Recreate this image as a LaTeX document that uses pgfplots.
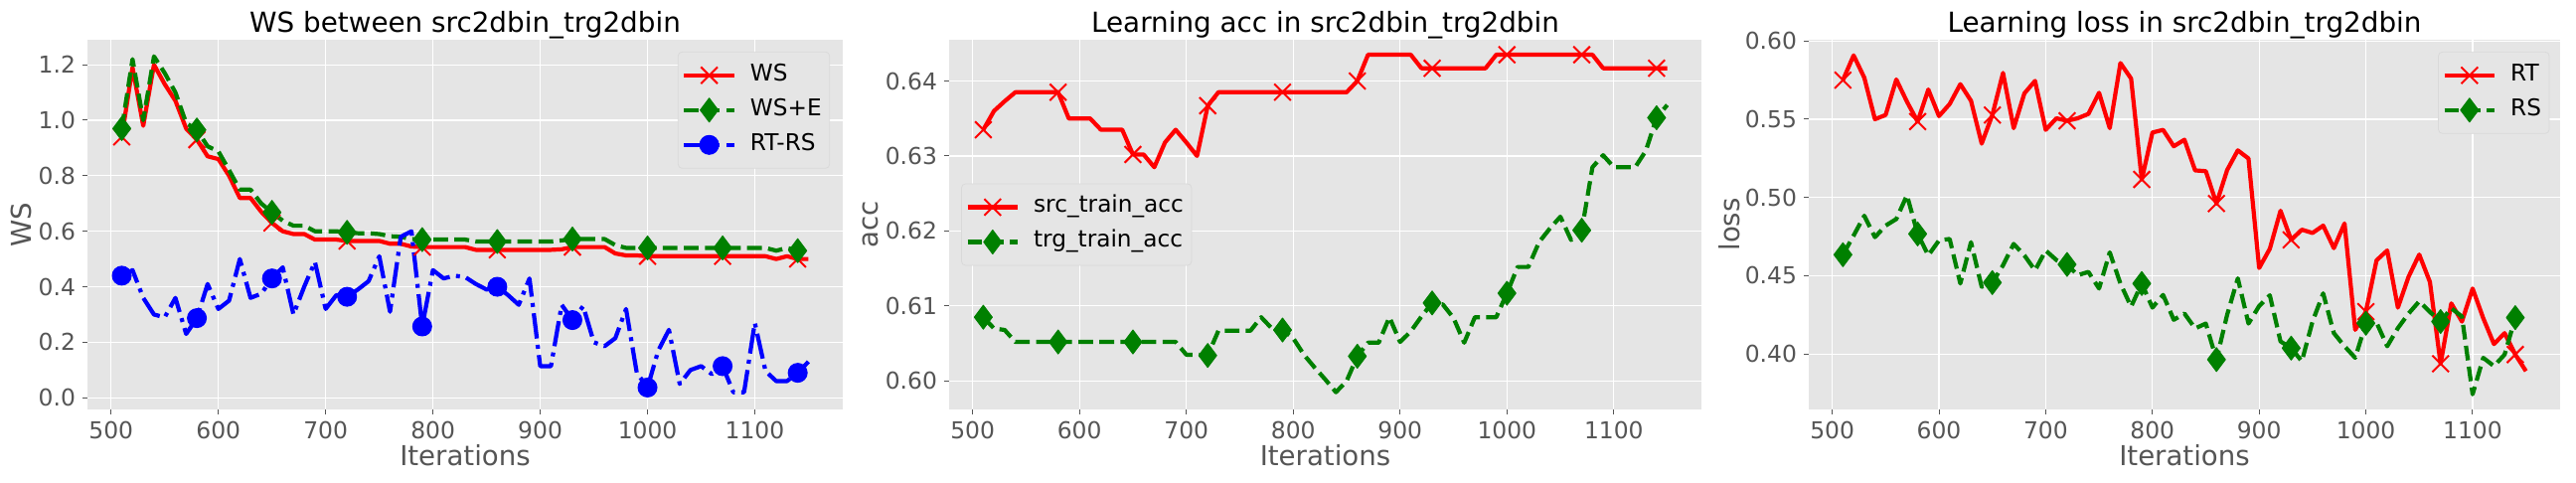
\documentclass[border=0pt]{standalone}
\usepackage{fontspec}
\setmainfont{DejaVu Sans}
\usepackage{pgfplots}
\pgfplotsset{compat=1.18}
\usepackage{pgfplotstable}
\definecolor{bgc}{HTML}{E5E5E5}
\definecolor{tickc}{HTML}{555555}
\definecolor{mred}{HTML}{FF0000}
\definecolor{mgreen}{HTML}{008000}
\definecolor{mblue}{HTML}{0000FF}
\newcommand{\tickfont}{\fontsize{11.7}{13}\selectfont}
\newcommand{\labfont}{\fontsize{13.8}{16}\selectfont}
\newcommand{\legfont}{\fontsize{11.6}{13}\selectfont}
\newcommand{\titfont}{\fontsize{13.9}{16}\selectfont}

\pgfplotstableread{
x ws wse rtrs
510 0.94 0.97 0.44
520 1.19 1.22 0.46
530 0.98 1.00 0.36
540 1.20 1.23 0.30
550 1.13 1.17 0.29
560 1.07 1.10 0.36
570 0.97 0.99 0.23
580 0.93 0.965 0.287
590 0.87 0.906 0.41
600 0.86 0.888 0.32
610 0.80 0.82 0.35
620 0.72 0.75 0.50
630 0.72 0.75 0.36
640 0.67 0.70 0.375
650 0.63 0.668 0.43
660 0.60 0.638 0.47
670 0.59 0.62 0.30
680 0.59 0.62 0.40
690 0.57 0.60 0.49
700 0.57 0.60 0.32
710 0.57 0.60 0.37
720 0.565 0.596 0.364
730 0.565 0.593 0.39
740 0.565 0.593 0.42
750 0.565 0.59 0.51
760 0.555 0.582 0.31
770 0.555 0.58 0.58
780 0.545 0.572 0.60
790 0.543 0.57 0.257
800 0.543 0.57 0.46
810 0.543 0.57 0.43
820 0.543 0.57 0.44
830 0.543 0.57 0.435
840 0.533 0.563 0.41
850 0.533 0.563 0.39
860 0.533 0.563 0.40
870 0.533 0.563 0.37
880 0.533 0.563 0.335
890 0.533 0.563 0.43
900 0.533 0.563 0.114
910 0.533 0.563 0.114
920 0.535 0.567 0.335
930 0.543 0.572 0.28
940 0.543 0.572 0.33
950 0.543 0.572 0.20
960 0.543 0.572 0.186
970 0.52 0.55 0.215
980 0.513 0.54 0.32
990 0.513 0.54 0.09
1000 0.51 0.54 0.037
1010 0.51 0.54 0.17
1020 0.51 0.54 0.245
1030 0.51 0.54 0.05
1040 0.51 0.54 0.10
1050 0.51 0.54 0.114
1060 0.51 0.54 0.085
1070 0.51 0.54 0.114
1080 0.51 0.54 0.02
1090 0.51 0.54 0.02
1100 0.51 0.54 0.27
1110 0.51 0.54 0.096
1120 0.50 0.53 0.06
1130 0.51 0.54 0.06
1140 0.50 0.53 0.09
1150 0.50 0.53 0.13
}\tabA

\pgfplotstableread{
x src trg
510 0.6335 0.6085
520 0.6360 0.6070
530 0.6373 0.6068
540 0.6385 0.6052
550 0.6385 0.6052
560 0.6385 0.6052
570 0.6385 0.6052
580 0.6385 0.6052
590 0.6350 0.6052
600 0.6350 0.6052
610 0.6350 0.6052
620 0.6335 0.6052
630 0.6335 0.6052
640 0.6335 0.6052
650 0.6302 0.6052
660 0.6302 0.6052
670 0.6285 0.6052
680 0.6318 0.6052
690 0.6335 0.6052
700 0.6318 0.6035
710 0.6300 0.6035
720 0.6367 0.6034
730 0.6385 0.6067
740 0.6385 0.6067
750 0.6385 0.6067
760 0.6385 0.6067
770 0.6385 0.6085
780 0.6385 0.6070
790 0.6385 0.6068
800 0.6385 0.6057
810 0.6385 0.6035
820 0.6385 0.6018
830 0.6385 0.6002
840 0.6385 0.5985
850 0.6385 0.6000
860 0.6400 0.6033
870 0.6435 0.6051
880 0.6435 0.6051
890 0.6435 0.6085
900 0.6435 0.6052
910 0.6435 0.6066
920 0.6417 0.6086
930 0.6417 0.6104
940 0.6417 0.6102
950 0.6417 0.6084
960 0.6417 0.6051
970 0.6417 0.6085
980 0.6417 0.6085
990 0.6435 0.6085
1000 0.6435 0.6117
1010 0.6435 0.6152
1020 0.6435 0.6152
1030 0.6435 0.6185
1040 0.6435 0.6203
1050 0.6435 0.6219
1060 0.6435 0.6188
1070 0.6435 0.6201
1080 0.6435 0.6285
1090 0.6417 0.6301
1100 0.6417 0.6285
1110 0.6417 0.6285
1120 0.6417 0.6285
1130 0.6417 0.6307
1140 0.6417 0.6351
1150 0.6417 0.6368
}\tabB

\pgfplotstableread{
x rt rs
510 0.5750 0.4634
520 0.5908 0.4756
530 0.5766 0.4883
540 0.5500 0.4746
550 0.5527 0.4820
560 0.5754 0.4862
570 0.5612 0.5014
580 0.5485 0.4767
590 0.5690 0.4630
600 0.5520 0.4725
610 0.5597 0.4735
620 0.5724 0.4450
630 0.5618 0.4714
640 0.5344 0.4429
650 0.5527 0.4456
660 0.5796 0.4566
670 0.5443 0.4703
680 0.5665 0.4630
690 0.5745 0.4534
700 0.5432 0.4661
710 0.5506 0.4600
720 0.5490 0.4572
730 0.5506 0.4503
740 0.5534 0.4524
750 0.5669 0.4418
760 0.5443 0.4649
770 0.5859 0.4450
780 0.5760 0.4302
790 0.5115 0.4450
800 0.5415 0.4296
810 0.5432 0.4377
820 0.5327 0.4218
830 0.5369 0.4258
840 0.5173 0.4163
850 0.5168 0.4194
860 0.4961 0.3964
870 0.5175 0.4250
880 0.5301 0.4483
890 0.5249 0.4194
900 0.4549 0.4306
910 0.4672 0.4375
920 0.4915 0.4080
930 0.4729 0.4037
940 0.4794 0.3953
950 0.4773 0.4207
960 0.4820 0.4387
970 0.4676 0.4133
980 0.4834 0.4049
990 0.4154 0.3975
1000 0.4270 0.4196
1010 0.4598 0.4200
1020 0.4661 0.4049
1030 0.4296 0.4165
1040 0.4493 0.4258
1050 0.4635 0.4336
1060 0.4460 0.4268
1070 0.3937 0.4207
1080 0.4323 0.4292
1090 0.4207 0.4239
1100 0.4418 0.3742
1110 0.4228 0.3975
1120 0.4063 0.3922
1130 0.4133 0.3996
1140 0.3996 0.4232
1150 0.3890 nan
}\tabC

\pgfplotsset{
  ggstyle/.style={
    scale only axis, height=186pt,
    axis background/.style={fill=bgc},
    axis line style={draw=none},
    grid=major, major grid style={white, line width=0.6pt},
    tick align=outside, tick pos=left, major tick length=2.5pt,
    tick style={tickc, line width=0.5pt},
    xmin=478, xmax=1182, xtick={500,600,...,1100},
    /pgf/number format/assume math mode=true,
    every tick label/.append style={font=\tickfont, text=tickc},
    xticklabel style={/pgf/number format/1000 sep={}},
    every axis label/.append style={font=\labfont, text=tickc},
    every axis title/.append style={font=\titfont, text=black},
    title style={at={(axis description cs:0.5,1)}, anchor=base, yshift=-2.5pt},
    xlabel={\labfont Iterations},
    xlabel style={at={(axis description cs:0.5,-0.124)}, anchor=center},
    legend cell align=left,
    legend style={fill=bgc, draw=black!15, rounded corners=2pt, font=\legfont, text=black,
      inner xsep=2pt, inner ysep=3pt, row sep=0pt,
      nodes={inner xsep=2pt, inner ysep=3pt, text height=8.5pt, text depth=3pt},
      /tikz/every odd column/.append style={column sep=5pt}},
    legend image code/.code={\draw[##1, mark repeat=3, mark phase=2] plot coordinates {(0pt,0pt) (12.6pt,0pt) (25.2pt,0pt)};},
    every axis plot/.append style={line width=2.1pt, line join=round, mark repeat=7, mark phase=1},
  },
  redx/.style={mred, mark=x, mark size=5.9pt, mark options={solid, line width=1pt}},
  greend/.style={mgreen, dash pattern=on 7.4pt off 3.2pt, mark=diamond*, mark size=6pt, mark options={solid, fill=mgreen, draw=mgreen, line width=0.5pt}},
  bluec/.style={mblue, dash pattern=on 12.8pt off 3.2pt on 2pt off 3.2pt, mark=*, mark size=4.75pt, mark options={solid, fill=mblue, draw=mblue, line width=0.5pt}},
}

\begin{document}
\begin{tikzpicture}
\path[use as bounding box] (0,0) rectangle (1296pt,243pt);

\begin{axis}[ggstyle, at={(44pt,37pt)}, anchor=south west, width=380pt,
  title={\titfont WS between src2dbin\_trg2dbin}, ylabel={\labfont WS},
  ymin=-0.042, ymax=1.29, ytick={0,0.2,...,1.2},
  yticklabel style={/pgf/number format/.cd, fixed, fixed zerofill, precision=1},
  ylabel style={at={(axis description cs:-0.087,0.5)}, anchor=center},
  legend style={at={(axis description cs:0.983,0.968)}, anchor=north east}]
\addplot[redx] table[x=x, y=ws] {\tabA};
\addlegendentry{\legfont WS}
\addplot[greend] table[x=x, y=wse] {\tabA};
\addlegendentry{\legfont WS+E}
\addplot[bluec] table[x=x, y=rtrs] {\tabA};
\addlegendentry{\legfont RT-RS}
\end{axis}

\begin{axis}[ggstyle, at={(477.5pt,37pt)}, anchor=south west, width=378.5pt,
  title={\titfont Learning acc in src2dbin\_trg2dbin}, ylabel={\labfont acc},
  ymin=0.5962, ymax=0.6455, ytick={0.60,0.61,0.62,0.63,0.64},
  yticklabel style={/pgf/number format/.cd, fixed, fixed zerofill, precision=2},
  ylabel style={at={(axis description cs:-0.105,0.5)}, anchor=center},
  legend style={at={(axis description cs:0.016,0.5)}, anchor=west}]
\addplot[redx] table[x=x, y=src] {\tabB};
\addlegendentry{\legfont src\_train\_acc}
\addplot[greend] table[x=x, y=trg] {\tabB};
\addlegendentry{\legfont trg\_train\_acc}
\end{axis}

\begin{axis}[ggstyle, at={(910pt,37pt)}, anchor=south west, width=378pt,
  title={\titfont Learning loss in src2dbin\_trg2dbin}, ylabel={\labfont loss},
  ymin=0.3645, ymax=0.6008, ytick={0.40,0.45,0.50,0.55,0.60},
  yticklabel style={/pgf/number format/.cd, fixed, fixed zerofill, precision=2},
  ylabel style={at={(axis description cs:-0.106,0.5)}, anchor=center},
  legend style={at={(axis description cs:0.986,0.968)}, anchor=north east}]
\addplot[redx] table[x=x, y=rt] {\tabC};
\addlegendentry{\legfont RT}
\addplot[greend] table[x=x, y=rs] {\tabC};
\addlegendentry{\legfont RS}
\end{axis}
\end{tikzpicture}
\end{document}
